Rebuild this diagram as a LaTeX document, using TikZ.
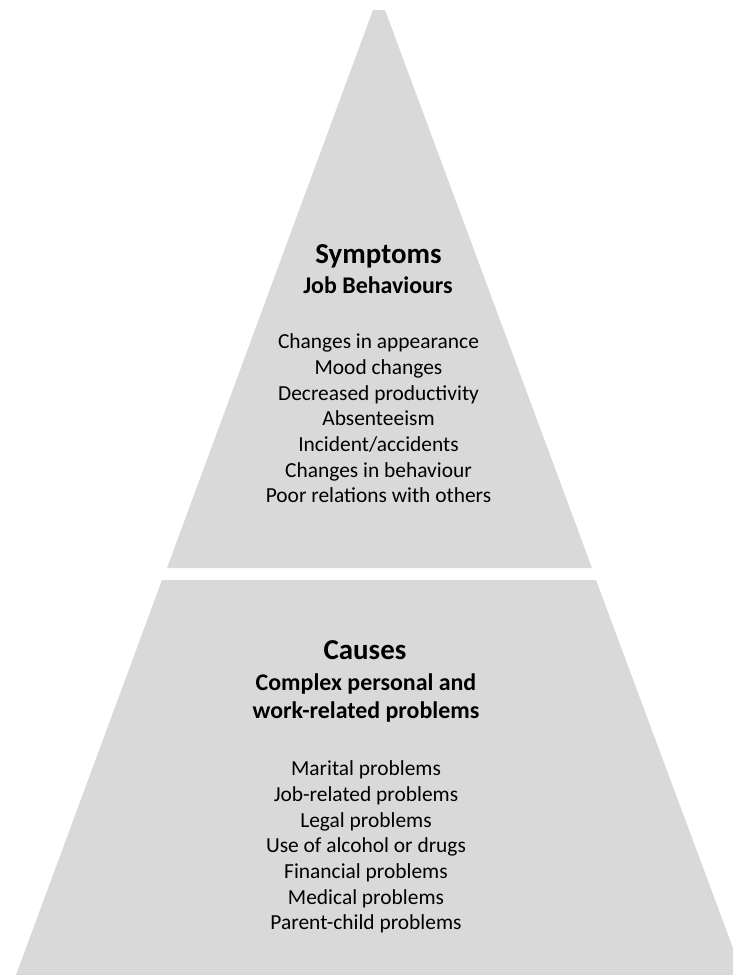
\documentclass[tikz,border=0pt]{standalone}
\usepackage{fontspec}
\setmainfont{Carlito}
\usepackage{tikz}
\usetikzlibrary{calc}
\definecolor{pyrgray}{HTML}{D9D9D9}
\tikzset{
  layer/.style={fill=pyrgray, draw=none},
  headtext/.style={font=\fontsize{29}{32}\selectfont\bfseries, align=center, inner sep=0pt},
  subtext/.style={font=\fontsize{24}{29}\selectfont\bfseries, align=center, inner sep=0pt},
  listtext/.style={font=\fontsize{21.5}{25.8}\selectfont, align=center, inner sep=0pt}
}

\begin{document}
\begin{tikzpicture}[x=1bp, y=-1bp]
            \useasboundingbox (0,0) rectangle (733,975);

            \fill[layer] (373,10) -- (385,10) -- (592,568) -- (167,568) -- cycle;
            \fill[layer] (162,580) -- (596,580) -- (733,948) -- (733,975) -- (16,975) -- cycle;

            \node [headtext] (symp) at (378.5,256.5) {Symptoms};
            \node [subtext] (jobb) at (378,285) {Job Behaviours};
            \node [listtext] (symplist) at (378.5,418.5) {Changes in appearance \\
                                                    Mood changes \\
                                                    Decreased productivity \\
                                                    Absenteeism \\
                                                    Incident/accidents \\
                                                    Changes in behaviour \\
                                                    Poor relations with others};

            \node [headtext] (caus) at (365,650) {Causes};
            \node [subtext] (comp) at (366,698) {Complex personal and \\
                                                    work-related problems};
            \node [listtext] (causlist) at (366,847) {Marital problems \\
                                                    Job-related problems \\
                                                    Legal problems \\
                                                    Use of alcohol or drugs \\
                                                    Financial problems \\
                                                    Medical problems \\
                                                    Parent-child problems};
        \end{tikzpicture}
\end{document}
